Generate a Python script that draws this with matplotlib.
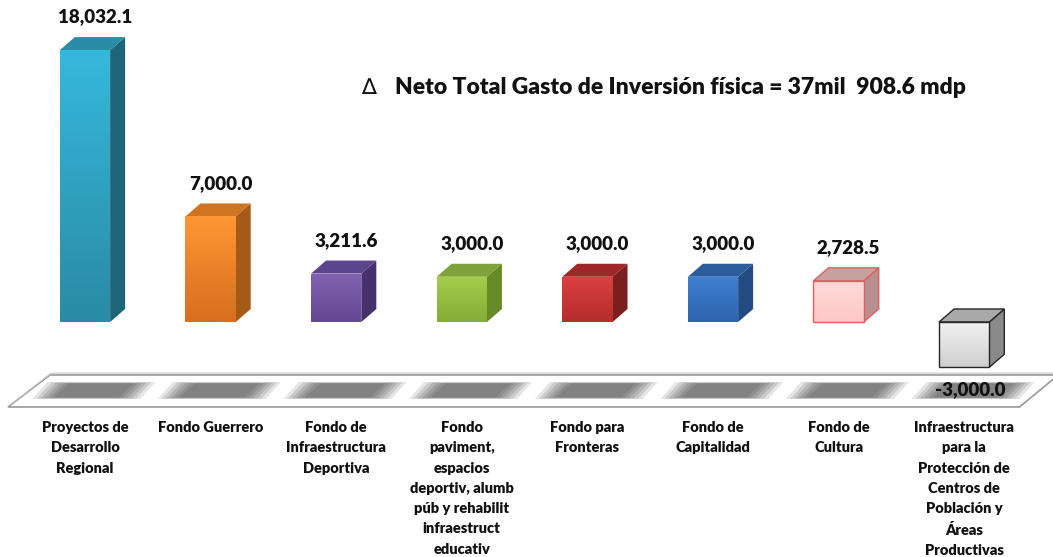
import numpy as np
import matplotlib
matplotlib.use("Agg")
import matplotlib.pyplot as plt
from matplotlib.patches import Polygon
from matplotlib.colors import LinearSegmentedColormap

categories = ["Proyectos de\nDesarrollo\nRegional", "Fondo Guerrero",
              "Fondo de\nInfraestructura\nDeportiva",
              "Fondo\npaviment,\nespacios\ndeportiv, alumb\npúb y rehabilit\ninfraestruct\neducativ",
              "Fondo para\nFronteras", "Fondo de\nCapitalidad", "Fondo de\nCultura",
              "Infraestructura\npara la\nProtección de\nCentros de\nPoblación y\nÁreas\nProductivas"]
values = [18032.1, 7000.0, 3211.6, 3000.0, 3000.0, 3000.0, 2728.5, -3000.0]
value_labels = ["18,032.1", "7,000.0", "3,211.6", "3,000.0", "3,000.0", "3,000.0", "2,728.5", "-3,000.0"]
title = "Neto Total Gasto de Inversión física = 37mil  908.6 mdp"

# front top, front bottom, side, top face, edge
styles = [
    ("#36B8DC", "#2A8BA5", "#1E6577", "#2B8CA8", None),
    ("#FF9634", "#D66E1E", "#A55A18", "#CF7420", None),
    ("#8062B2", "#644892", "#46316C", "#5D448E", None),
    ("#A4CE4C", "#85AC35", "#678A28", "#7FA33A", None),
    ("#DA4040", "#B52D2D", "#7A1E1E", "#9E2727", None),
    ("#3F80D2", "#2E64AE", "#234C82", "#2D5C9C", None),
    ("#FFDADA", "#FFC6C6", "#B88E8E", "#C9A0A0", "#DD5F5F"),
    ("#F2F2F2", "#CFCFCF", "#8A8A8A", "#A9A9A9", "#262626"),
]

plt.rcParams['font.family'] = ['Lato', 'DejaVu Sans']

fig = plt.figure(figsize=(10.53, 5.57), dpi=100)
ax = fig.add_axes([0, 0, 1, 1])
ax.axis("off")

px = 125.6           # pixels per category
py = 0.01508         # pixels per value unit
xlim = (-85 / px, (1053 - 85) / px)
ylim = (-(557 - 322) / py, 322 / py)

w = 0.4
dx = 15 / px
dy = 13 / py

# floor slab
fy_top = -53 / py
fy_bot = -85 / py
floor = Polygon([(-0.613, fy_bot), (-0.279, fy_top), (7.75, fy_top), (7.44, fy_bot)],
                closed=True, facecolor="white", edgecolor="#9A9A9A", lw=1.2, zorder=1)
ax.add_patch(floor)
floor2 = Polygon([(-0.60, fy_bot + 120), (-0.27, fy_top + 120), (7.75, fy_top + 120)],
                 closed=False, fill=False, edgecolor="#C8C8C8", lw=0.8, zorder=1)
ax.add_patch(floor2)

# blurred shadows on the floor
sy0 = -(399 - 322) / py
sy1 = -(382 - 322) / py
for i in range(len(values)):
    cx = i + 0.07
    for k, a in zip(range(6), [0.17, 0.2, 0.22, 0.25, 0.28, 0.3]):
        s = 1 - k * 0.08
        hw = 0.43 * s
        shrink = (sy1 - sy0) * (1 - (0.55 + 0.45 * s)) / 2
        ax.add_patch(Polygon([(cx - hw - 0.06, sy0 + shrink), (cx - hw + 0.06, sy1 - shrink),
                              (cx + hw + 0.06, sy1 - shrink), (cx + hw - 0.06, sy0 + shrink)],
                             closed=True, facecolor="#666666", edgecolor="none",
                             alpha=a, zorder=2))

# 3D boxes
for i, v in enumerate(values):
    ftop, fbot, side, topc, edge = styles[i]
    x0, x1 = i - w / 2, i + w / 2
    y0, y1 = min(0, v), max(0, v)
    ec = edge if edge else "none"
    lw = 1.0 if edge else 0
    side_poly = Polygon([(x1, y0), (x1 + dx, y0 + dy), (x1 + dx, y1 + dy), (x1, y1)],
                        closed=True, facecolor=side, edgecolor=ec, lw=lw, zorder=3)
    top_poly = Polygon([(x0, y1), (x0 + dx, y1 + dy), (x1 + dx, y1 + dy), (x1, y1)],
                       closed=True, facecolor=topc, edgecolor=ec, lw=lw, zorder=3)
    front = Polygon([(x0, y0), (x1, y0), (x1, y1), (x0, y1)], closed=True,
                    facecolor="none", edgecolor=ec, lw=lw, zorder=5)
    ax.add_patch(side_poly)
    ax.add_patch(top_poly)
    ax.add_patch(front)
    cmap = LinearSegmentedColormap.from_list("g%d" % i, [fbot, ftop])
    grad = np.linspace(1, 0, 100).reshape(-1, 1)
    im = ax.imshow(grad, extent=[x0, x1, y0, y1], aspect="auto", cmap=cmap,
                   origin="upper", zorder=4, interpolation="bilinear")
    im.set_clip_path(front)

# value labels
for i, v in enumerate(values):
    if v >= 0:
        ax.text(i + 0.08, v + dy + 20 / py, value_labels[i], ha="center", va="center",
                fontsize=13.5, fontweight="heavy", color="#111111", zorder=6)
    else:
        ax.text(i + 0.05, -(390 - 322) / py, value_labels[i], ha="center", va="center",
                fontsize=13.5, fontweight="heavy", color="#111111", zorder=6)

# category labels
for i, c in enumerate(categories):
    ax.text(i, -(421 - 322) / py, c, ha="center", va="top", fontsize=10.5,
            fontweight="heavy", linespacing=1.66, color="#111111")

# title
ax.text(2.20, (322 - 88) / py, "\u2206", ha="left", va="center", fontsize=16,
        family=["DejaVu Sans"], color="#111111")
ax.text(2.47, (322 - 88) / py, title, ha="left", va="center", fontsize=16.5,
        fontweight="heavy", color="#111111")

ax.set_xlim(*xlim)
ax.set_ylim(*ylim)
fig.savefig("out.png", dpi=100)
